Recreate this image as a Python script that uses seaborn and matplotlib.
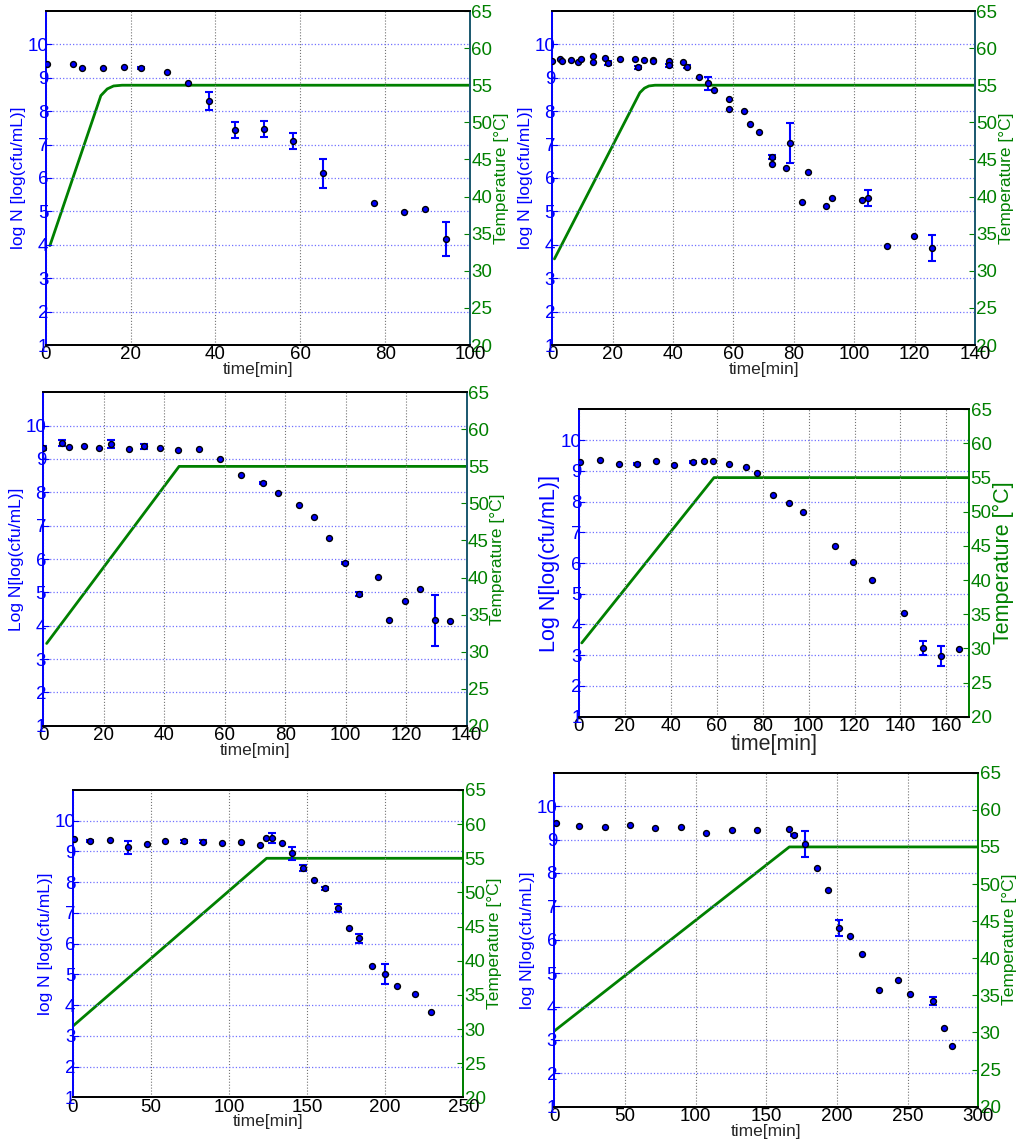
import numpy as np
import pandas as pd
import seaborn as sns
import matplotlib.pyplot as plt

sns.set_style("white")
plt.rcParams['font.family'] = ['Liberation Sans', 'DejaVu Sans']

BLUE = '#0000ff'
GREEN = '#008000'

# ---- panel 1 (0-100 min)
t1 = [0.2, 6.4, 8.6, 13.5, 18.5, 22.5, 28.5, 33.5, 38.5, 44.5, 51.4, 58.4, 65.4, 77.4, 84.4, 89.3, 94.4]
n1 = [9.41, 9.40, 9.28, 9.30, 9.33, 9.29, 9.16, 8.84, 8.30, 7.44, 7.46, 7.11, 6.14, 5.26, 4.98, 5.07, 4.17]
e1 = [0, 0, 0, 0, 0, 0.03, 0, 0, 0.27, 0.23, 0.24, 0.24, 0.43, 0, 0, 0, 0.5]
tt1 = [1.0, 13.0, 14.5, 16.0, 18.0, 100]
temp1 = [33.4, 53.6, 54.5, 54.9, 55.0, 55.0]

# ---- panel 2 (0-140 min)
t2 = [0.0, 2.4, 3.3, 6.3, 8.4, 9.4, 13.5, 13.5, 17.3, 18.3, 22.5, 27.5, 28.3, 30.5, 33.5, 33.5,
      38.5, 38.5, 43.4, 44.5, 48.5, 51.5, 53.4, 58.5, 58.5, 63.5, 65.5, 68.5, 72.7, 72.7,
      77.5, 78.6, 84.6, 82.7, 90.5, 92.5, 102.5, 104.7, 110.7, 119.7, 125.8]
n2 = [9.50, 9.56, 9.50, 9.52, 9.47, 9.57, 9.65, 9.48, 9.58, 9.43, 9.55, 9.56, 9.31, 9.52, 9.53, 9.49,
      9.49, 9.37, 9.46, 9.33, 9.03, 8.83, 8.63, 8.37, 8.06, 8.02, 7.63, 7.39, 6.62, 6.43,
      6.31, 7.04, 6.17, 5.28, 5.17, 5.40, 5.33, 5.40, 3.97, 4.27, 3.90]
e2 = [0, 0, 0, 0, 0, 0, 0, 0, 0, 0.06, 0, 0, 0.04, 0, 0, 0,
      0, 0.04, 0, 0.04, 0, 0.2, 0, 0, 0, 0, 0, 0, 0.06, 0,
      0, 0.6, 0, 0, 0, 0, 0, 0.25, 0, 0, 0.38]
tt2 = [0.7, 29.0, 30.5, 32.0, 34.0, 140]
temp2 = [31.6, 54.0, 54.6, 54.9, 55.0, 55.0]

# ---- panel 3 (0-140 min)
t3 = [0.0, 6.3, 8.5, 13.4, 18.4, 22.5, 28.4, 33.4, 38.5, 44.5, 51.5, 58.4, 65.5, 72.5, 77.5,
      84.6, 89.5, 94.6, 99.7, 104.5, 110.6, 114.4, 119.6, 124.6, 129.5, 134.5]
n3 = [9.33, 9.48, 9.36, 9.38, 9.33, 9.46, 9.31, 9.38, 9.33, 9.26, 9.31, 9.01, 8.52, 8.28, 7.97,
      7.61, 7.25, 6.64, 5.87, 4.95, 5.45, 4.18, 4.75, 5.09, 4.16, 4.15]
e3 = [0.05, 0.1, 0, 0, 0, 0.12, 0, 0.08, 0, 0, 0, 0, 0, 0.03, 0,
      0, 0, 0, 0.03, 0.06, 0, 0, 0, 0, 0.76, 0]
tt3 = [1.1, 44.9, 140]
temp3 = [31.1, 55.0, 55.0]

# ---- panel 4 (0-170 min)
t4 = [0.4, 9.3, 17.4, 25.4, 33.4, 41.5, 49.5, 54.6, 58.5, 65.5, 72.6, 77.5, 84.6, 91.6, 97.6,
      111.5, 119.5, 127.6, 141.6, 149.7, 157.7, 165.7]
n4 = [9.27, 9.34, 9.21, 9.22, 9.32, 9.19, 9.28, 9.31, 9.31, 9.21, 9.11, 8.92, 8.22, 7.94, 7.67,
      6.55, 6.02, 5.45, 4.38, 3.24, 2.98, 3.20]
e4 = [0, 0, 0, 0.03, 0, 0, 0.03, 0, 0, 0, 0, 0, 0, 0, 0,
      0, 0, 0, 0, 0.22, 0.32, 0]
tt4 = [1.2, 58.8, 170]
temp4 = [30.8, 55.0, 55.0]

# ---- panel 5 (0-250 min)
t5 = [0.9, 11.3, 23.7, 35.6, 47.6, 59.3, 71.5, 83.6, 95.6, 107.5, 119.7, 123.5, 127.6, 133.7,
      140.6, 147.6, 154.7, 161.7, 169.8, 176.6, 183.4, 191.6, 199.7, 207.3, 219.3, 229.5]
n5 = [9.42, 9.34, 9.36, 9.13, 9.24, 9.34, 9.33, 9.31, 9.26, 9.32, 9.22, 9.44, 9.45, 9.29,
      8.94, 8.46, 8.07, 7.80, 7.16, 6.51, 6.18, 5.28, 5.02, 4.61, 4.35, 3.79]
e5 = [0, 0.04, 0, 0.22, 0, 0, 0.04, 0.05, 0, 0, 0, 0, 0.16, 0,
      0.22, 0.11, 0, 0.04, 0.14, 0, 0.15, 0, 0.33, 0, 0, 0]
tt5 = [0.0, 124.1, 250]
temp5 = [30.4, 55.0, 55.0]

# ---- panel 6 (0-300 min)
t6 = [0.9, 17.7, 35.8, 53.8, 71.5, 89.6, 107.5, 125.5, 143.4, 165.8, 169.8, 177.4, 185.6, 193.4,
      201.7, 209.2, 217.5, 229.5, 243.2, 251.7, 267.7, 275.5, 281.4]
n6 = [9.49, 9.40, 9.36, 9.44, 9.35, 9.37, 9.18, 9.27, 9.27, 9.32, 9.13, 8.86, 8.14, 7.48,
      6.36, 6.10, 5.56, 4.49, 4.79, 4.37, 4.16, 3.37, 2.82]
e6 = [0, 0, 0, 0, 0, 0, 0, 0, 0, 0, 0.04, 0.38, 0, 0,
      0.24, 0, 0, 0, 0, 0, 0.12, 0, 0]
tt6 = [0.0, 166.3, 300]
temp6 = [30.2, 55.0, 55.0]

W, H = 1021, 1144
fig = plt.figure(figsize=(W / 100, H / 100), dpi=100)


def rect(l, r, top, bot):
    return [l / W, 1 - bot / H, (r - l) / W, (bot - top) / H]


def panel(box, t, n, e, tt, temp, xmax, xstep, ylabel, rspine, labfs=12.5, tickfs=13.5):
    ax = fig.add_axes(box)
    ax2 = ax.twinx()
    ax.set_zorder(ax2.get_zorder() + 1)
    ax.patch.set_visible(False)

    # temperature profile on the right axis
    sns.lineplot(x=tt, y=temp, ax=ax2, color=GREEN, lw=2, sort=False)
    ax2.set_ylim(20, 65)
    ax2.set_yticks(range(20, 66, 5))
    ax2.set_ylabel('Temperature [°C]', color=GREEN, fontsize=labfs, labelpad=1)
    ax2.tick_params(axis='y', colors=GREEN, direction='in', length=4, labelsize=tickfs, pad=1)

    # log counts with error bars
    df = pd.DataFrame({'t': t, 'n': n, 'e': e})
    eb = df[df['e'] > 0]
    ax.errorbar(eb['t'], eb['n'], yerr=eb['e'], fmt='none', ecolor=BLUE,
                elinewidth=1.5, capsize=3, capthick=1.5, zorder=2)
    sns.scatterplot(data=df, x='t', y='n', ax=ax, color=BLUE, edgecolor='black',
                    linewidth=1.0, s=18, zorder=3)

    ax.set_xlim(0, xmax)
    ax.set_ylim(1, 11)
    ax.set_xticks(np.arange(0, xmax + 1, xstep))
    ax.set_yticks(range(1, 11))
    ax.grid(axis='x', ls=':', color='0.45', lw=0.8)
    ax.grid(axis='y', ls=':', color='#7070ff', lw=0.9)
    ax.set_axisbelow(True)
    ax.set_xlabel('time[min]', fontsize=labfs, labelpad=-1)
    ax.set_ylabel(ylabel, color=BLUE, fontsize=labfs, labelpad=1)
    ax.tick_params(axis='y', colors=BLUE, direction='in', length=4, labelsize=tickfs, pad=-2)
    ax.tick_params(axis='x', colors='black', direction='in', length=4, labelsize=tickfs, pad=1)

    for a in (ax, ax2):
        a.spines['left'].set_color(BLUE)
        a.spines['right'].set_color(rspine)
        a.spines['top'].set_color('black')
        a.spines['bottom'].set_color('black')
        for s in a.spines.values():
            s.set_linewidth(1.3)
    ax2.set_xlabel('')
    return ax


TEAL = '#1d5a70'
panel(rect(45.7, 470, 11, 345), t1, n1, e1, tt1, temp1, 100, 20, 'log N [log(cfu/mL)]', TEAL)
panel(rect(552.3, 975, 11, 345), t2, n2, e2, tt2, temp2, 140, 20, 'log N [log(cfu/mL)]', TEAL)
panel(rect(43.3, 466.7, 392.3, 725.7), t3, n3, e3, tt3, temp3, 140, 20, 'Log N[log(cfu/mL)]', TEAL)
panel(rect(579, 969.3, 409.3, 716.7), t4, n4, e4, tt4, temp4, 170, 20, 'Log N[log(cfu/mL)]', GREEN,
      labfs=15.5)
panel(rect(72.7, 463.3, 790, 1097.3), t5, n5, e5, tt5, temp5, 250, 50, 'log N [log(cfu/mL)]', GREEN)
panel(rect(554.3, 978.3, 772.7, 1106.7), t6, n6, e6, tt6, temp6, 300, 50, 'log N[log(cfu/mL)]', GREEN)

plt.savefig('out.png', dpi=100)
